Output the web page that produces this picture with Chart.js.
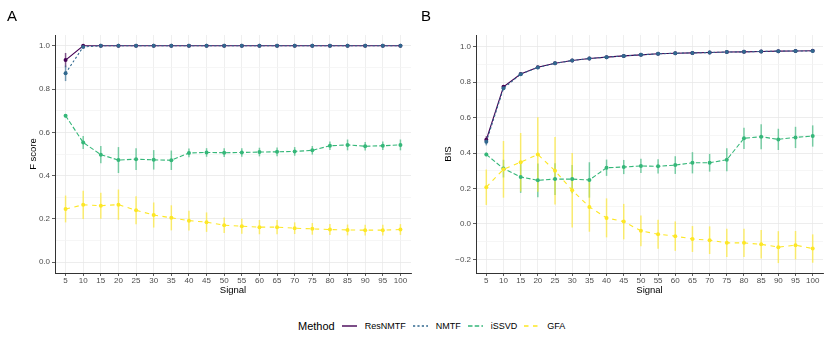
<!DOCTYPE html>
<html lang="en">
  <head>
    <meta charset="utf-8" />
    <script src="https://cdn.jsdelivr.net/npm/chart.js@4.4.0/dist/chart.umd.min.js"></script>
    <title>F score / BIS</title>
    <style>
      body { margin: 0; background: #fff; font-family: "Liberation Sans", Arial, sans-serif; }
      #wrap { position: relative; width: 830px; height: 347px; }
      canvas { position: absolute; top: 0; }
      .tag { position: absolute; top: 8px; font-size: 15px; color: #000; line-height: 1; }
      #legend { position: absolute; top: 318px; left: 298px; display: flex; align-items: center; height: 16px; color: #000; }
      #legend .title { font-size: 11px; margin-right: 7px; }
      #legend .lab { font-size: 9px; margin: 0 7px 0 8px; }
      #legend svg { display: block; }
    </style>
  </head>
  <body>
    <div id="wrap">
      <canvas id="chartA" width="415" height="300" style="left:0"></canvas>
      <canvas id="chartB" width="415" height="300" style="left:415px"></canvas>
      <div class="tag" style="left:7px">A</div>
      <div class="tag" style="left:421px">B</div>
      <div id="legend"></div>
    </div>
    <script>
      const signal = [5, 10, 15, 20, 25, 30, 35, 40, 45, 50, 55, 60, 65, 70, 75, 80, 85, 90, 95, 100];
      const methods = ['ResNMTF', 'NMTF', 'iSSVD', 'GFA'];
      const colors = ['#440154', '#31688E', '#35B779', '#FDE725'];
      const dashes = [[], [2.2, 2.2], [4.5, 2.2], [4.5, 4.5]];

      // panel A: F score (mean and half width of the error bar)
      const resA = [0.934, 1, 1, 1, 1, 1, 1, 1, 1, 1, 1, 1, 1, 1, 1, 1, 1, 1, 1, 1];
      const resAErr = [0.033, 0.002, 0, 0, 0, 0, 0, 0, 0, 0, 0, 0, 0, 0, 0, 0, 0, 0, 0, 0];
      const nmtfA = [0.873, 0.995, 1, 1, 1, 1, 1, 1, 1, 1, 1, 1, 1, 1, 1, 1, 1, 1, 1, 1];
      const nmtfAErr = [0.036, 0.004, 0, 0, 0, 0, 0, 0, 0, 0, 0, 0, 0, 0, 0, 0, 0, 0, 0, 0];
      const issvdA = [0.677, 0.553, 0.497, 0.472, 0.476, 0.473, 0.471, 0.505, 0.507, 0.506, 0.507, 0.509, 0.510, 0.512, 0.517, 0.538, 0.542, 0.536, 0.538, 0.542];
      const issvdAErr = [0.008, 0.03, 0.04, 0.06, 0.05, 0.045, 0.045, 0.02, 0.02, 0.02, 0.02, 0.02, 0.02, 0.02, 0.02, 0.02, 0.025, 0.02, 0.02, 0.025];
      const gfaA = [0.246, 0.265, 0.261, 0.266, 0.240, 0.218, 0.205, 0.192, 0.185, 0.171, 0.166, 0.162, 0.162, 0.157, 0.154, 0.151, 0.149, 0.148, 0.148, 0.151];
      const gfaAErr = [0.062, 0.065, 0.06, 0.07, 0.065, 0.058, 0.058, 0.046, 0.045, 0.036, 0.035, 0.033, 0.033, 0.027, 0.027, 0.025, 0.025, 0.025, 0.025, 0.025];

      // panel B: BIS
      const resB = [0.475, 0.774, 0.846, 0.884, 0.907, 0.922, 0.933, 0.941, 0.948, 0.954, 0.960, 0.963, 0.965, 0.967, 0.970, 0.971, 0.973, 0.975, 0.976, 0.977];
      const resBErr = [0.02, 0.01, 0.005, 0.004, 0.003, 0.003, 0.003, 0.002, 0.002, 0.002, 0.002, 0.002, 0.002, 0.002, 0.002, 0.002, 0.002, 0.002, 0.002, 0.002];
      const nmtfB = [0.463, 0.765, 0.845, 0.883, 0.906, 0.922, 0.933, 0.941, 0.948, 0.954, 0.960, 0.963, 0.965, 0.967, 0.970, 0.971, 0.973, 0.975, 0.976, 0.976];
      const nmtfBErr = [0.02, 0.01, 0.005, 0.004, 0.003, 0.003, 0.003, 0.002, 0.002, 0.002, 0.002, 0.002, 0.002, 0.002, 0.002, 0.002, 0.002, 0.002, 0.002, 0.002];
      const issvdB = [0.392, 0.312, 0.265, 0.246, 0.253, 0.253, 0.248, 0.317, 0.321, 0.327, 0.325, 0.332, 0.345, 0.345, 0.362, 0.483, 0.492, 0.477, 0.488, 0.496];
      const issvdBErr = [0.01, 0.05, 0.09, 0.095, 0.09, 0.08, 0.1, 0.046, 0.04, 0.04, 0.04, 0.05, 0.06, 0.05, 0.065, 0.06, 0.07, 0.06, 0.06, 0.06];
      const gfaB = [0.207, 0.308, 0.348, 0.392, 0.300, 0.190, 0.096, 0.034, 0.013, -0.039, -0.058, -0.069, -0.085, -0.092, -0.107, -0.107, -0.115, -0.131, -0.120, -0.139];
      const gfaBErr = [0.1, 0.16, 0.165, 0.21, 0.19, 0.21, 0.14, 0.11, 0.1, 0.087, 0.082, 0.083, 0.073, 0.078, 0.08, 0.08, 0.08, 0.09, 0.08, 0.08];

      const yTicksA = [0, 0.2, 0.4, 0.6, 0.8, 1.0];
      const yMinorA = [0.1, 0.3, 0.5, 0.7, 0.9];
      const yTicksB = [-0.2, 0, 0.2, 0.4, 0.6, 0.8, 1.0];
      const yMinorB = [-0.1, 0.1, 0.3, 0.5, 0.7, 0.9];

      const tickFont = { family: '"Liberation Sans", Arial, sans-serif', size: 8 };
      const titleFont = { family: '"Liberation Sans", Arial, sans-serif', size: 9.5 };

      function alpha(hex, a) {
        const n = parseInt(hex.slice(1), 16);
        return 'rgba(' + (n >> 16) + ',' + ((n >> 8) & 255) + ',' + (n & 255) + ',' + a + ')';
      }

      // vertical error bars, drawn under the lines and points
      const errorBars = {
        id: 'errorBars',
        beforeDatasetsDraw(chart) {
          const ctx = chart.ctx;
          const y = chart.scales.y;
          ctx.save();
          ctx.lineWidth = 1.5;
          chart.data.datasets.forEach((ds, i) => {
            const meta = chart.getDatasetMeta(i);
            ctx.strokeStyle = alpha(ds.borderColor, 0.65);
            meta.data.forEach((pt, j) => {
              const e = ds.err[j];
              if (!e) return;
              ctx.beginPath();
              ctx.moveTo(pt.x, y.getPixelForValue(ds.data[j].y - e));
              ctx.lineTo(pt.x, y.getPixelForValue(ds.data[j].y + e));
              ctx.stroke();
            });
          });
          ctx.restore();
        }
      };

      function fmt(v) {
        return v.toFixed(1).replace('-', '\u2212');
      }

      function grafico(id, yTitle, ymin, ymax, majors, minors, yWidth, rightPad, series) {
        const isMajor = v => majors.some(m => Math.abs(m - v) < 1e-6);
        const datasets = series.map((s, i) => ({
          label: methods[i],
          data: signal.map((x, j) => ({ x: x, y: s.vals[j] })),
          err: s.err,
          borderColor: colors[i],
          backgroundColor: colors[i],
          borderWidth: 1.1,
          borderDash: dashes[i],
          pointRadius: 2,
          pointBorderWidth: 0,
          pointBackgroundColor: colors[i],
          order: 4 - i
        }));
        return new Chart(document.getElementById(id).getContext('2d'), {
          type: 'line',
          data: { datasets },
          plugins: [errorBars],
          options: {
            responsive: false,
            animation: false,
            layout: { padding: { top: 35, right: rightPad, left: 0, bottom: 0 } },
            plugins: { legend: { display: false }, tooltip: { enabled: false } },
            scales: {
              x: {
                type: 'linear',
                min: 2,
                max: 103,
                afterBuildTicks: s => { s.ticks = signal.map(v => ({ value: v })); },
                afterFit: s => { s.height = 27; },
                ticks: { font: tickFont, color: '#4d4d4d', padding: 0, autoSkip: false, maxRotation: 0, callback: v => String(v) },
                grid: { color: '#ebebeb', lineWidth: 0.8, tickLength: 3, tickColor: '#333' },
                border: { display: true, color: '#333', width: 1 },
                title: { display: true, text: 'Signal', font: titleFont, color: '#000', padding: { top: 0, bottom: 4.3 } }
              },
              y: {
                min: ymin,
                max: ymax,
                afterBuildTicks: s => { s.ticks = majors.concat(minors).sort((a, b) => a - b).map(v => ({ value: v })); },
                afterFit: s => { s.width = yWidth; },
                ticks: { font: tickFont, color: '#4d4d4d', padding: 2, autoSkip: false, callback: v => isMajor(v) ? fmt(v) : '' },
                grid: {
                  color: c => isMajor(c.tick.value) ? '#e8e8e8' : '#f4f4f4',
                  lineWidth: 0.8,
                  tickLength: 3,
                  tickColor: c => isMajor(c.tick.value) ? '#333' : 'rgba(0,0,0,0)'
                },
                border: { display: true, color: '#333', width: 1 },
                title: { display: true, text: yTitle, font: titleFont, color: '#000', padding: { top: 27.3, bottom: 0 } }
              }
            }
          }
        });
      }

      grafico('chartA', 'F score', -0.05, 1.05, yTicksA, yMinorA, 55, 4, [
        { vals: resA, err: resAErr },
        { vals: nmtfA, err: nmtfAErr },
        { vals: issvdA, err: issvdAErr },
        { vals: gfaA, err: gfaAErr }
      ]);
      grafico('chartB', 'BIS', -0.277, 1.066, yTicksB, yMinorB, 61, 7, [
        { vals: resB, err: resBErr },
        { vals: nmtfB, err: nmtfBErr },
        { vals: issvdB, err: issvdBErr },
        { vals: gfaB, err: gfaBErr }
      ]);

      // shared legend under both panels
      const legend = document.getElementById('legend');
      let html = '<span class="title">Method</span>';
      methods.forEach((m, i) => {
        const da = dashes[i].length ? ' stroke-dasharray="' + dashes[i].join(' ') + '"' : '';
        html += '<svg width="15" height="4"><line x1="0" y1="2" x2="15" y2="2" stroke="' + colors[i] + '" stroke-width="1.4"' + da + '/></svg>';
        html += '<span class="lab">' + m + '</span>';
      });
      legend.innerHTML = html;
    </script>
  </body>
</html>
